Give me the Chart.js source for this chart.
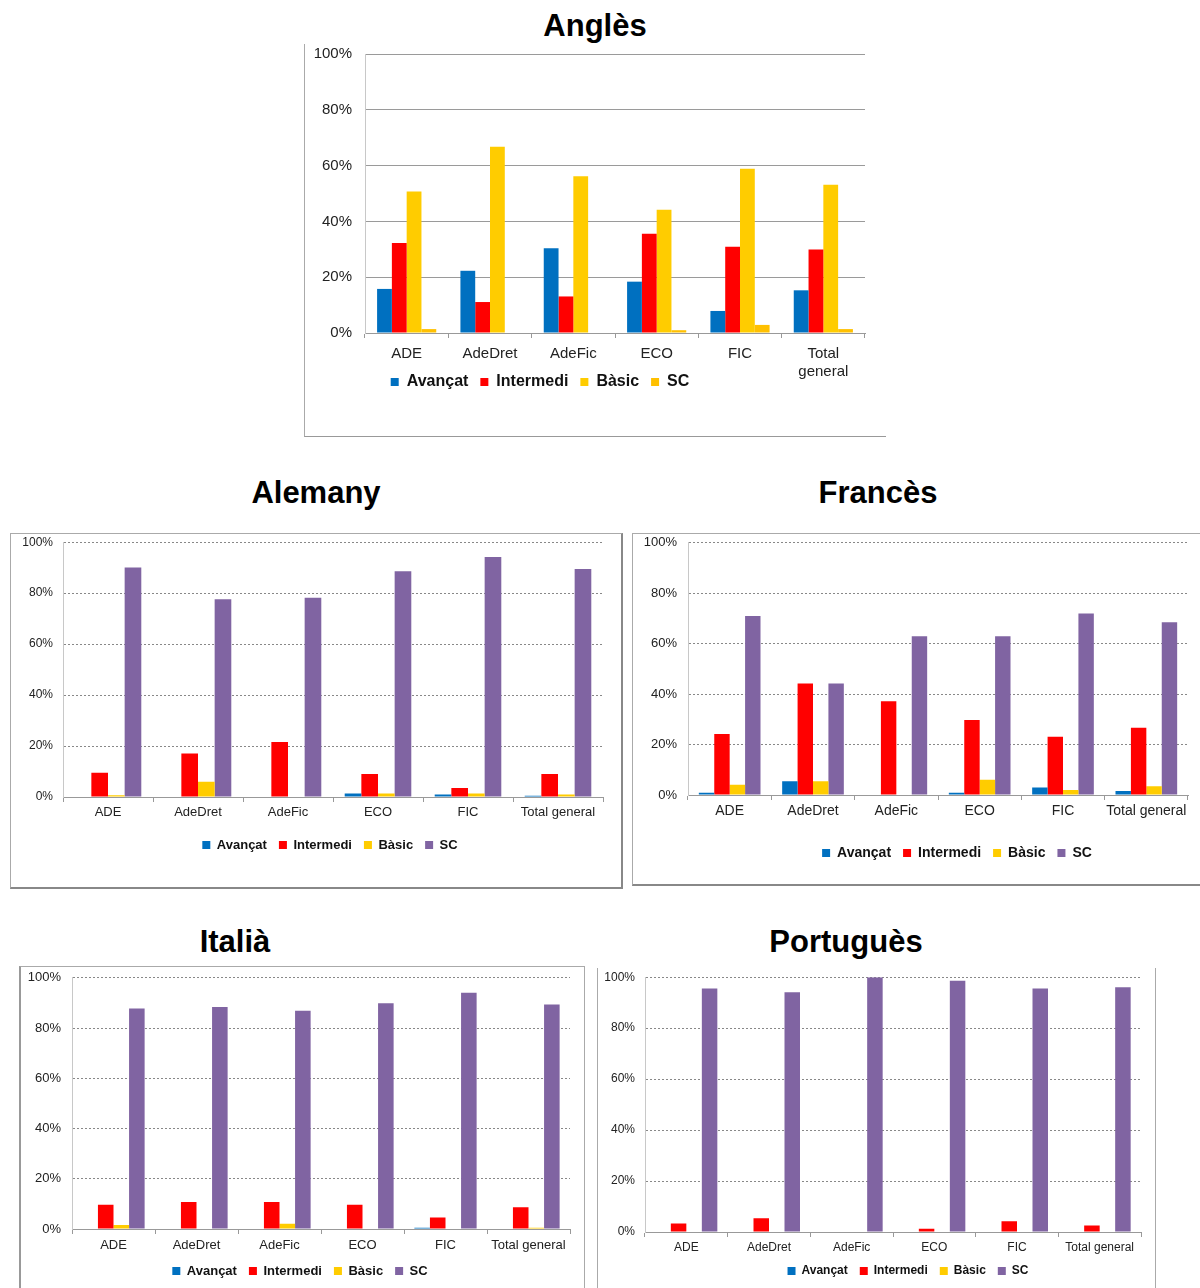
<!DOCTYPE html>
<html>
<head>
<meta charset="utf-8">
<script src="https://cdn.jsdelivr.net/npm/chart.js"></script>
<style>
body { margin: 0; background: #fff; width: 1200px; height: 1288px; position: relative; overflow: hidden;
       font-family: "Liberation Sans", Arial, sans-serif; }
.title { position: absolute; font-weight: bold; font-size: 31px; color: #000; transform: translate(-50%, -50%); white-space: nowrap; }
.box { position: absolute; box-sizing: border-box; }
canvas { position: absolute; }
</style>
</head>
<body>
<div class="title" style="left:595px;top:26px">Anglès</div>
<div class="title" style="left:316px;top:493px">Alemany</div>
<div class="title" style="left:878px;top:493px">Francès</div>
<div class="title" style="left:235px;top:942px">Italià</div>
<div class="title" style="left:846px;top:942px">Portuguès</div>

<div class="box" style="left:304px;top:44px;width:582px;height:393px;border-left:1px solid #aaa;border-bottom:1px solid #999"></div>
<div class="box" style="left:10px;top:533px;width:613px;height:356px;border:1px solid #aaa;border-right:2px solid #888;border-bottom:2px solid #888"></div>
<div class="box" style="left:632px;top:533px;width:580px;height:353px;border:1px solid #aaa;border-bottom:2px solid #888"></div>
<div class="box" style="left:19px;top:966px;width:566px;height:340px;border:1px solid #aaa;border-left:2px solid #999"></div>
<div class="box" style="left:597px;top:968px;width:559px;height:340px;border-left:1px solid #aaa;border-right:1px solid #aaa"></div>

<canvas id="angles"></canvas>
<canvas id="alemany"></canvas>
<canvas id="frances"></canvas>
<canvas id="italia"></canvas>
<canvas id="portugues"></canvas>

<script>
// categories, series and y ticks
var categories = ['ADE', 'AdeDret', 'AdeFic', 'ECO', 'FIC', 'Total general'];
var seriesNames = ['Avançat', 'Intermedi', 'Bàsic', 'SC'];
var yTicks = [0, 20, 40, 60, 80, 100];

// Anglès
var anglesAvancat   = [15.8, 22.3, 30.4, 18.4, 7.9, 15.3];
var anglesIntermedi = [32.3, 11.1, 13.1, 35.6, 30.9, 29.9];
var anglesBasic     = [50.7, 66.8, 56.2, 44.2, 58.9, 53.1];
var anglesSC        = [1.4, 0, 0, 1.0, 2.9, 1.4];

// Alemany
var alemanyAvancat   = [0, 0, 0, 1.4, 1.0, 0.5];
var alemanyIntermedi = [9.5, 17.1, 21.6, 9.0, 3.5, 9.0];
var alemanyBasic     = [0.7, 6.0, 0, 1.4, 1.4, 1.0];
var alemanySC        = [90.1, 77.6, 78.2, 88.6, 94.2, 89.5];

// Francès
var francesAvancat   = [0.9, 5.5, 0, 0.9, 3.0, 1.6];
var francesIntermedi = [24.2, 44.2, 37.2, 29.7, 23.1, 26.7];
var francesBasic     = [4.1, 5.5, 0, 6.0, 2.0, 3.5];
var francesSC        = [71.0, 44.2, 62.9, 62.9, 72.0, 68.5];

// Italià
var italiaAvancat   = [0, 0, 0, 0, 0.5, 0];
var italiaIntermedi = [9.7, 10.7, 10.7, 9.7, 4.6, 8.7];
var italiaBasic     = [1.6, 0, 2.1, 0, 0, 0.5];
var italiaSC        = [87.8, 88.4, 86.9, 89.9, 94.0, 89.4];

// Portuguès
var portuguesAvancat   = [0, 0, 0, 0, 0, 0];
var portuguesIntermedi = [3.3, 5.4, 0, 1.3, 4.2, 2.6];
var portuguesBasic     = [0, 0, 0, 0, 0, 0];
var portuguesSC        = [95.6, 94.1, 100, 98.6, 95.6, 96.1];

var FONT = '"Liberation Sans", Arial, sans-serif';

// move the legend to a given centre (canvas coords)
var legendMove = {
    id: 'legendMove',
    afterLayout: function (chart, args, opts) {
        var lg = chart.legend;
        if (!lg || opts.cy == null) return;
        var dy = (opts.cy - opts.p - opts.f / 2) - lg.top;
        lg.top += dy; lg.bottom += dy;
        var dx = opts.cx - (lg.left + lg.right) / 2;
        lg.left += dx; lg.right += dx;
    }
};

function drawChart(id, g, values, colors) {
    var canvas = document.getElementById(id);
    // top of canvas: chart.js adds the tick label overhang on top of the padding
    var y0 = g.plot.t - 8 - g.topAdj;
    var legH = g.legF + 12 + 10;
    var W = g.plot.r - g.x0 + 5;
    var H = g.plot.b - y0 + g.xH + legH + g.padB;
    canvas.width = W; canvas.height = H;
    canvas.style.left = g.x0 + 'px';
    canvas.style.top = y0 + 'px';

    var datasets = seriesNames.map(function (name, i) {
        return {
            label: name,
            data: values[i],
            backgroundColor: colors[i],
            borderWidth: 0,
            categoryPercentage: g.catPct,
            barPercentage: 1.0
        };
    });

    new Chart(canvas.getContext('2d'), {
        type: 'bar',
        data: { labels: categories, datasets: datasets },
        options: {
            responsive: false,
            animation: false,
            events: [],
            layout: { padding: { left: 0, top: 8, right: 5, bottom: g.padB } },
            plugins: {
                tooltip: { enabled: false },
                legend: {
                    position: 'bottom',
                    labels: {
                        boxWidth: 8, boxHeight: 8, padding: 12, color: '#111',
                        font: { family: FONT, size: g.legF, weight: 'bold' }
                    }
                },
                legendMove: { cx: g.legend.cx - g.x0, cy: g.legend.cy - y0, f: g.legF, p: 12 }
            },
            scales: {
                x: {
                    afterFit: function (s) { s.height = g.xH; },
                    grid: { display: true, drawOnChartArea: false, drawTicks: true, tickLength: 5, color: '#999', offset: true },
                    border: { display: true, color: '#999', width: 1 },
                    ticks: {
                        padding: g.xLabelPad, color: '#222', maxRotation: 0, autoSkip: false,
                        font: { family: FONT, size: g.catF },
                        callback: function (v) {
                            var l = this.getLabelForValue(v);
                            return (g.wrap && l === 'Total general') ? l.split(' ') : l;
                        }
                    }
                },
                y: {
                    min: 0, max: 100,
                    afterFit: function (s) { s.width = g.plot.l - g.x0; },
                    afterBuildTicks: function (s) { s.ticks = yTicks.map(function (v) { return { value: v }; }); },
                    grid: { color: g.gridColor, drawTicks: false, lineWidth: 1 },
                    border: { display: true, color: '#c8c8c8', dash: g.dash },
                    ticks: {
                        padding: g.yPad, color: '#222',
                        font: { family: FONT, size: g.tickF },
                        callback: function (v) { return v + '%'; }
                    }
                }
            }
        },
        plugins: [legendMove]
    });
}

var SC_PURPLE = '#8064A2';

drawChart('angles',
    { x0: 306, plot: { l: 365, r: 865, t: 54, b: 333 }, topAdj: 14, xH: 50, padB: 0, tickF: 15, catF: 15, legF: 16,
      legend: { cx: 540, cy: 382 }, yPad: 13, xLabelPad: 7, catPct: 0.71, dash: [], gridColor: '#9a9a9a', wrap: true },
    [anglesAvancat, anglesIntermedi, anglesBasic, anglesSC],
    ['#0070C0', '#FF0000', '#FFCC00', '#FFC000']);

drawChart('alemany',
    { x0: 12, plot: { l: 63, r: 603, t: 542, b: 797 }, topAdj: 9, xH: 30, padB: 0, tickF: 12, catF: 13, legF: 13,
      legend: { cx: 330, cy: 845 }, yPad: 10, xLabelPad: 3, catPct: 0.74, dash: [2, 2], gridColor: '#888' },
    [alemanyAvancat, alemanyIntermedi, alemanyBasic, alemanySC],
    ['#0070C0', '#FF0000', '#FFCC00', SC_PURPLE]);

drawChart('frances',
    { x0: 634, plot: { l: 688, r: 1188, t: 542, b: 795 }, topAdj: 10, xH: 30, padB: 10, tickF: 13, catF: 14, legF: 14,
      legend: { cx: 957, cy: 853 }, yPad: 11, xLabelPad: 3, catPct: 0.74, dash: [2, 2], gridColor: '#888' },
    [francesAvancat, francesIntermedi, francesBasic, francesSC],
    ['#0070C0', '#FF0000', '#FFCC00', SC_PURPLE]);

drawChart('italia',
    { x0: 21, plot: { l: 72, r: 570, t: 977, b: 1229 }, topAdj: 10, xH: 30, padB: 20, tickF: 13, catF: 13, legF: 13,
      legend: { cx: 300, cy: 1271 }, yPad: 11, xLabelPad: 4, catPct: 0.75, dash: [2, 2], gridColor: '#888' },
    [italiaAvancat, italiaIntermedi, italiaBasic, italiaSC],
    ['#0070C0', '#FF0000', '#FFCC00', SC_PURPLE]);

drawChart('portugues',
    { x0: 599, plot: { l: 645, r: 1141, t: 977, b: 1232 }, topAdj: 9, xH: 30, padB: 20, tickF: 12, catF: 12, legF: 12,
      legend: { cx: 908, cy: 1271 }, yPad: 10, xLabelPad: 3, catPct: 0.75, dash: [2, 2], gridColor: '#888' },
    [portuguesAvancat, portuguesIntermedi, portuguesBasic, portuguesSC],
    ['#0070C0', '#FF0000', '#FFCC00', SC_PURPLE]);
</script>
</body>
</html>
